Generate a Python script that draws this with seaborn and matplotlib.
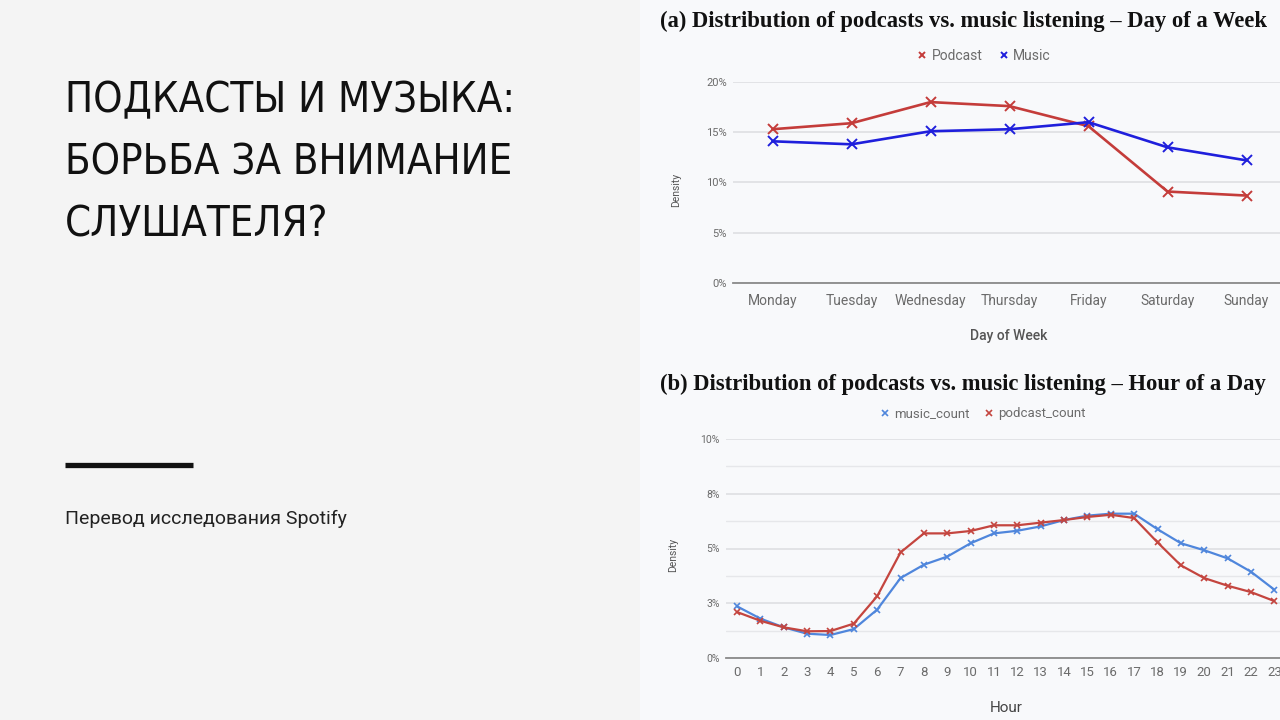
"""
Slide: podcasts vs. music listening distributions (Spotify study).
"""

#Libraries
import numpy as np
import pandas as pd
import matplotlib
matplotlib.use("Agg")
import matplotlib.pyplot as plt
import seaborn as sns
from matplotlib.lines import Line2D

#Data: day of week chart (a)
days = ["Monday", "Tuesday", "Wednesday", "Thursday", "Friday", "Saturday", "Sunday"]
day_podcast = [15.3, 15.9, 18.0, 17.6, 15.6, 9.1, 8.7]
day_music = [14.1, 13.8, 15.1, 15.3, 16.0, 13.5, 12.2]
day_yticks = [0, 5, 10, 15, 20]
day_yticklabels = ["0%", "5%", "10%", "15%", "20%"]

#Data: hour of day chart (b)
hours = list(range(24))
hour_music = [2.36, 1.80, 1.40, 1.11, 1.05, 1.32, 2.21, 3.65, 4.26, 4.63, 5.24, 5.69,
              5.81, 6.01, 6.30, 6.50, 6.59, 6.59, 5.88, 5.24, 4.92, 4.55, 3.94, 3.12]
hour_podcast = [2.10, 1.70, 1.40, 1.22, 1.23, 1.57, 2.82, 4.82, 5.69, 5.69, 5.80, 6.06,
                6.06, 6.18, 6.30, 6.44, 6.54, 6.39, 5.28, 4.23, 3.65, 3.30, 3.01, 2.60]
hour_yticks = [0, 2.5, 5, 7.5, 10]
hour_yticklabels = ["0%", "3%", "5%", "8%", "10%"]
hour_minor = [1.25, 3.75, 6.25, 8.75]

#Slide texts
title_lines = ["ПОДКАСТЫ И МУЗЫКА:", "БОРЬБА ЗА ВНИМАНИЕ", "СЛУШАТЕЛЯ?"]
subtitle = "Перевод исследования Spotify"

#Colours
RED_A, BLUE_A = "#c43c3a", "#1f1fdc"
RED_B, BLUE_B = "#c4453f", "#4f86dc"
TXT = "#6b6b6b"

W, H = 1280, 720
CONDENSED = ["DejaVu Sans"]
SERIF = ["Liberation Serif", "DejaVu Serif"]


def px_axes(fig, x0, y_top, x1, y_bottom):
    #Axes placed by pixel coordinates (y measured from the top of the slide).
    return fig.add_axes([x0 / W, 1 - y_bottom / H, (x1 - x0) / W, (y_bottom - y_top) / H])


def style_axes(ax):
    ax.set_facecolor("none")
    for s in ["top", "right", "left"]:
        ax.spines[s].set_visible(False)
    ax.spines["bottom"].set_color("#8a8a8a")
    ax.spines["bottom"].set_linewidth(1.3)
    ax.tick_params(axis="both", length=0, colors=TXT)
    ax.grid(axis="y", color="#dcdde0", linewidth=1.1)
    ax.grid(axis="x", visible=False)
    ax.set_axisbelow(True)


def solid_markers(ax):
    #seaborn draws marker edges white; for 'x' markers the edge is the whole marker.
    for ln in ax.lines:
        ln.set_markeredgecolor(ln.get_color())


sns.set_theme(style="white")
plt.rcParams["font.family"] = ["Roboto", "DejaVu Sans"]

fig = plt.figure(figsize=(12.8, 7.2), dpi=100)
fig.patch.set_facecolor("#f4f4f4")

#Right panel background
fig.add_artist(plt.Rectangle((640 / W, 0), 640 / W, 1, transform=fig.transFigure,
                             facecolor="#f8f9fb", edgecolor="none", zorder=0))

#Left panel texts
for i, line in enumerate(title_lines):
    fig.text(65 / W, 1 - (112 + 62.5 * i) / H, line, family=CONDENSED, fontstretch="condensed",
             fontsize=30, color="#111111", va="baseline", ha="left")
fig.add_artist(Line2D([65 / W, 193 / W], [1 - 465 / H, 1 - 465 / H], transform=fig.transFigure,
                      color="#111111", linewidth=3.8, solid_capstyle="butt"))
fig.text(65 / W, 1 - 519 / H, subtitle, fontsize=14,
         color="#222222", va="center", ha="left")

#Chart (a)
df_day = pd.DataFrame({
    "day": days * 2,
    "density": day_podcast + day_music,
    "series": ["Podcast"] * len(days) + ["Music"] * len(days),
})
ax1 = px_axes(fig, 733, 82, 1286, 283)
style_axes(ax1)
sns.lineplot(data=df_day, x="day", y="density", hue="series", ax=ax1,
             palette={"Podcast": RED_A, "Music": BLUE_A}, marker="x", markersize=6.5,
             markeredgewidth=1.4, linewidth=1.9, legend=False)
solid_markers(ax1)
ax1.set_xlim(-0.5, 6.5)
ax1.set_ylim(0, 20)
ax1.set_yticks(day_yticks)
ax1.set_yticklabels(day_yticklabels, fontsize=8)
ax1.tick_params(axis="x", labelsize=10, pad=8)
ax1.tick_params(axis="y", pad=4.5)
ax1.set_xlabel("Day of Week", fontsize=10, color="#555555", fontweight="medium")
ax1.set_ylabel("Density", fontsize=7.5, color="#555555")
ax1.xaxis.set_label_coords((1009 - 733) / (1286 - 733), -0.23)
ax1.yaxis.set_label_coords((681 - 733) / (1286 - 733), (283 - 190) / 201)
fig.text(660 / W, 1 - 21 / H, "(a) Distribution of podcasts vs. music listening – Day of a Week",
         family=SERIF, fontweight="bold", fontsize=16.3, va="center", ha="left", color="#111111")
h1 = [Line2D([], [], color=RED_A, marker="x", linestyle="none", markersize=5, markeredgewidth=1.4),
      Line2D([], [], color=BLUE_A, marker="x", linestyle="none", markersize=5, markeredgewidth=1.4)]
fig.legend(h1, ["Podcast", "Music"], loc="center", bbox_to_anchor=(983 / W, 1 - 56 / H),
           ncol=2, frameon=False, fontsize=10, labelcolor=TXT, handletextpad=0.2,
           columnspacing=1.0, handlelength=1.0)

#Chart (b)
df_hour = pd.DataFrame({
    "hour": hours * 2,
    "density": hour_music + hour_podcast,
    "series": ["music_count"] * len(hours) + ["podcast_count"] * len(hours),
})
ax2 = px_axes(fig, 726, 439, 1286, 658)
style_axes(ax2)
sns.lineplot(data=df_hour, x="hour", y="density", hue="series", ax=ax2,
             palette={"music_count": BLUE_B, "podcast_count": RED_B}, marker="x", markersize=5,
             markeredgewidth=1.2, linewidth=1.6, legend=False)
solid_markers(ax2)
ax2.set_xlim(-0.47, 23.5)
ax2.set_ylim(0, 10)
ax2.set_xticks(hours)
ax2.set_yticks(hour_yticks)
ax2.set_yticklabels(hour_yticklabels, fontsize=7.5)
ax2.set_yticks(hour_minor, minor=True)
ax2.grid(axis="y", which="minor", color="#e6e7ea", linewidth=1.0)
ax2.tick_params(axis="y", which="minor", length=0)
ax2.tick_params(axis="x", labelsize=9.5, pad=6)
ax2.tick_params(axis="y", pad=4.5)
ax2.set_xlabel("Hour", fontsize=11, color="#444444")
ax2.set_ylabel("Density", fontsize=7.5, color="#555555")
ax2.xaxis.set_label_coords((1006 - 726) / (1286 - 726), -0.195)
ax2.yaxis.set_label_coords((678 - 726) / (1286 - 726), (658 - 555) / (658 - 439))
fig.text(660 / W, 1 - 384 / H, "(b) Distribution of podcasts vs. music listening – Hour of a Day",
         family=SERIF, fontweight="bold", fontsize=16.3, va="center", ha="left", color="#111111")
h2 = [Line2D([], [], color=BLUE_B, marker="x", linestyle="none", markersize=4.5, markeredgewidth=1.2),
      Line2D([], [], color=RED_B, marker="x", linestyle="none", markersize=4.5, markeredgewidth=1.2)]
fig.legend(h2, ["music_count", "podcast_count"], loc="center", bbox_to_anchor=(982 / W, 1 - 414 / H),
           ncol=2, frameon=False, fontsize=9.5, labelcolor=TXT, handletextpad=0.2,
           columnspacing=1.0, handlelength=1.0)

fig.savefig("out.png", dpi=100, facecolor=fig.get_facecolor())
